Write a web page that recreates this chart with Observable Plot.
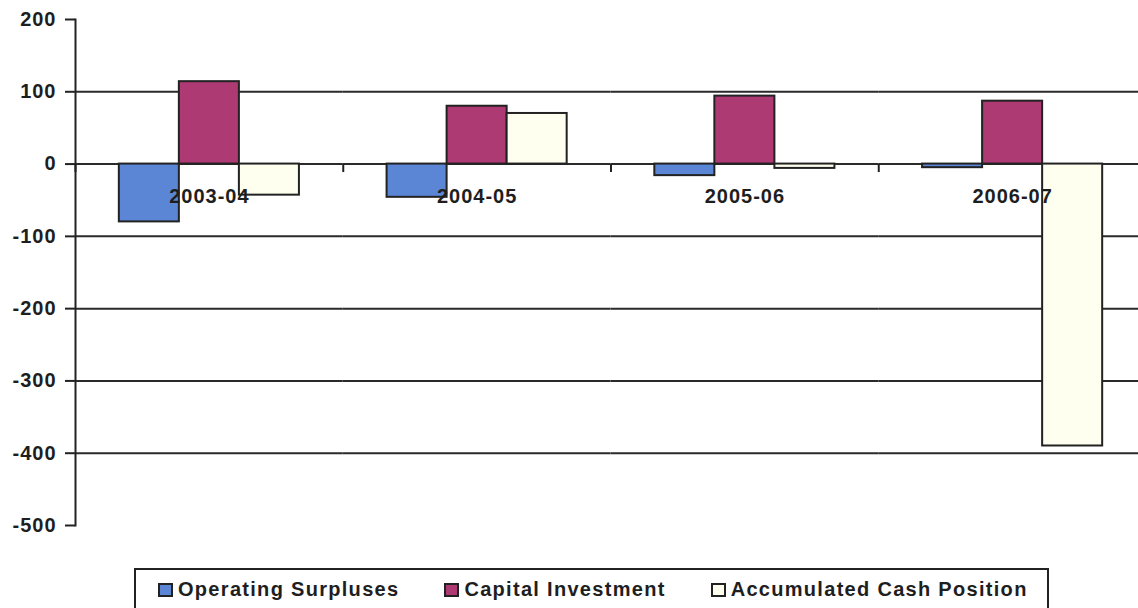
<!DOCTYPE html>
<html>
<head>
<meta charset="utf-8">
<script src="https://cdn.jsdelivr.net/npm/d3@7"></script>
<script src="https://cdn.jsdelivr.net/npm/@observablehq/plot@0.6"></script>
<style>
  html, body { margin: 0; padding: 0; background: #fff; overflow: hidden; width: 1138px; height: 608px; }
  #wrap { position: relative; width: 1138px; height: 608px; overflow: hidden; }
  #chart { position: absolute; left: 0; top: 0; width: 1146px; }
  #chart svg { max-width: none !important; }
  #legend {
    position: absolute; left: 134px; top: 568px; width: 915px; height: 60px;
    box-sizing: border-box; border: 2px solid #222; background: #fff;
    font-family: "Liberation Sans", Arial, sans-serif; font-weight: bold; font-size: 20px;
    letter-spacing: 1.3px; color: #1e1e1e;
    display: flex; align-items: flex-start; padding: 8px 0 0 22px; gap: 45px;
  }
  .item { display: flex; align-items: center; gap: 5px; white-space: nowrap; }
  .sw { width: 15px; height: 14px; box-sizing: border-box; border: 2px solid #222; }
</style>
</head>
<body>
<div id="wrap">
  <div id="chart"></div>
  <div id="legend"></div>
</div>
<script>
// ---- data ----
const categories = ["2003-04", "2004-05", "2005-06", "2006-07"];
const series = ["Operating Surpluses", "Capital Investment", "Accumulated Cash Position"];
const operatingSurpluses = [-80, -46, -16, -5];
const capitalInvestment = [114, 80, 94, 87];
const accumulatedCash = [-43, 70, -6, -390];
const colors = ["#5b86d6", "#ae3a74", "#ffffef"];
const yTicks = [200, 100, 0, -100, -200, -300, -400, -500];
const gridValues = [100, 0, -100, -200, -300, -400];

const valuesBySeries = [operatingSurpluses, capitalInvestment, accumulatedCash];
const table = categories.flatMap((c, i) =>
  series.map((s, j) => ({category: c, series: s, value: valuesBySeries[j][i]}))
);

const tickSymbol = {
  draw(context, size) {
    const l = Math.sqrt(size);
    context.moveTo(0, 0);
    context.lineTo(0, l);
  }
};

const chart = Plot.plot({
  width: 1146,
  height: 545,
  marginLeft: 75,
  marginRight: 0,
  marginTop: 19,
  marginBottom: 20,
  style: {
    fontFamily: "'Liberation Sans', Arial, sans-serif",
    fontWeight: "bold",
    fontSize: "20px",
    letterSpacing: "1px",
    color: "#1e1e1e",
    background: "transparent",
    overflow: "visible",
    maxWidth: "none"
  },
  fx: {domain: categories, paddingInner: 0, paddingOuter: 0, round: false, axis: null, label: null},
  x: {domain: series, paddingInner: 0, paddingOuter: 0.73, round: false, axis: null, label: null},
  y: {domain: [-500, 200], label: null},
  color: {domain: series, range: colors},
  marks: [
    Plot.ruleY(gridValues, {stroke: "#2a2a2a", strokeWidth: 2}),
    Plot.frame({anchor: "left", facetAnchor: "left", stroke: "#222", strokeWidth: 2}),
    Plot.axisY({
      ticks: yTicks, tickSize: 10, tickPadding: 9, strokeWidth: 2, stroke: "#222",
      tickFormat: d => String(d), fill: "#1e1e1e", fontSize: 20, fontWeight: "bold",
      label: null
    }),
    Plot.dot([0], {y: d => d, frameAnchor: "left", symbol: tickSymbol, r: 4.5, stroke: "#222", strokeWidth: 2, fill: "none"}),
    Plot.barY(table, {fx: "category", x: "series", y: "value", fill: "series", stroke: "#222", strokeWidth: 2}),
    Plot.text(categories, {fx: d => d, text: d => d, y: 0, dy: 33, frameAnchor: "middle", fontSize: 20, fontWeight: "bold", fill: "#1e1e1e"})
  ]
});
chart.style.maxWidth = "none";
document.getElementById("chart").appendChild(chart);

const legend = document.getElementById("legend");
series.forEach((s, i) => {
  const item = document.createElement("div");
  item.className = "item";
  const sw = document.createElement("span");
  sw.className = "sw";
  sw.style.background = colors[i];
  const label = document.createElement("span");
  label.textContent = s;
  item.appendChild(sw);
  item.appendChild(label);
  legend.appendChild(item);
});
</script>
</body>
</html>
